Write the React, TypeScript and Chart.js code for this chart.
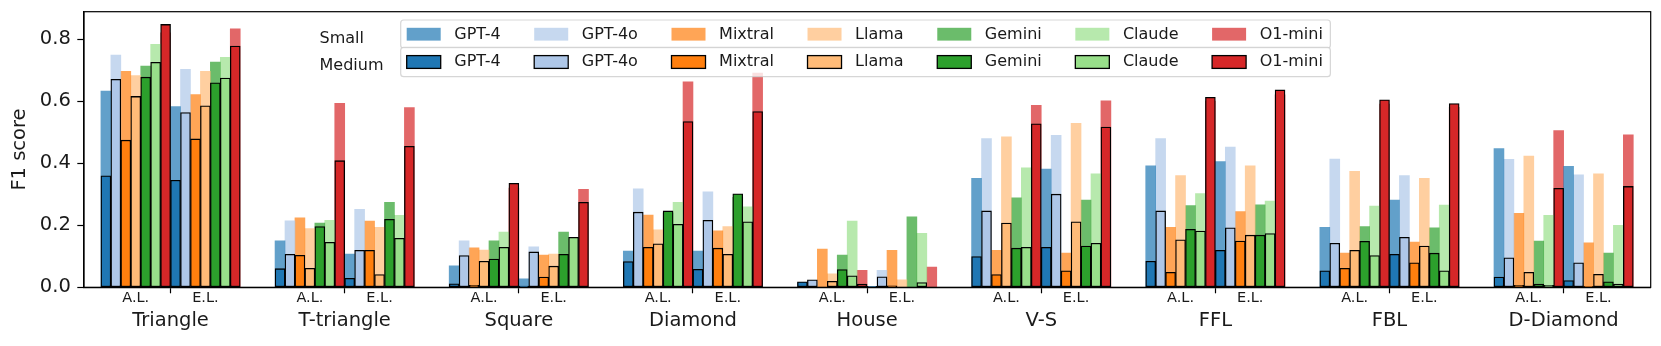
import React, { useEffect, useRef } from 'react';
import { Chart, registerables } from 'chart.js';

Chart.register(...registerables);

const FONT = "'DejaVu Sans', 'Liberation Sans', sans-serif";

const groups = ['Triangle', 'T-triangle', 'Square', 'Diamond', 'House', 'V-S', 'FFL', 'FBL', 'D-Diamond'];
const subgroups = ['A.L.', 'E.L.'];
const models = ['GPT-4', 'GPT-4o', 'Mixtral', 'Llama', 'Gemini', 'Claude', 'O1-mini'];
const sizes = ['Small', 'Medium'];
const yTicks = [0, 0.2, 0.4, 0.6, 0.8];
const yMax = 0.888;

// Each array: Triangle A.L., Triangle E.L., T-triangle A.L., T-triangle E.L., Square A.L., Square E.L.,
// Diamond A.L., Diamond E.L., House A.L., House E.L., V-S A.L., V-S E.L., FFL A.L., FFL E.L.,
// FBL A.L., FBL E.L., D-Diamond A.L., D-Diamond E.L.
const smallGPT4 = [0.632, 0.582, 0.150, 0.107, 0.069, 0.027, 0.117, 0.117, 0.015, 0.0, 0.351, 0.381, 0.391, 0.405, 0.193, 0.281, 0.447, 0.390];
const mediumGPT4 = [0.359, 0.345, 0.060, 0.029, 0.011, 0.004, 0.083, 0.058, 0.018, 0.003, 0.099, 0.129, 0.084, 0.119, 0.053, 0.106, 0.033, 0.022];

const smallGPT4o = [0.748, 0.702, 0.214, 0.251, 0.150, 0.130, 0.317, 0.308, 0.020, 0.055, 0.479, 0.490, 0.479, 0.452, 0.413, 0.360, 0.412, 0.362];
const mediumGPT4o = [0.670, 0.563, 0.106, 0.119, 0.102, 0.114, 0.242, 0.216, 0.024, 0.034, 0.246, 0.300, 0.246, 0.192, 0.142, 0.161, 0.095, 0.079];

const smallMixtral = [0.696, 0.621, 0.224, 0.213, 0.127, 0.104, 0.233, 0.182, 0.123, 0.119, 0.119, 0.110, 0.193, 0.244, 0.110, 0.146, 0.238, 0.143];
const mediumMixtral = [0.474, 0.478, 0.103, 0.119, 0.006, 0.033, 0.129, 0.126, 0.0, 0.005, 0.041, 0.053, 0.048, 0.149, 0.061, 0.079, 0.006, 0.003];

const smallLlama = [0.682, 0.696, 0.189, 0.193, 0.120, 0.107, 0.185, 0.196, 0.043, 0.024, 0.485, 0.528, 0.360, 0.391, 0.374, 0.351, 0.423, 0.366];
const mediumLlama = [0.615, 0.585, 0.061, 0.041, 0.084, 0.068, 0.140, 0.106, 0.019, 0.0, 0.207, 0.211, 0.153, 0.168, 0.119, 0.133, 0.048, 0.042];

const smallGemini = [0.713, 0.726, 0.207, 0.274, 0.150, 0.178, 0.240, 0.290, 0.104, 0.227, 0.288, 0.281, 0.263, 0.266, 0.196, 0.192, 0.149, 0.110];
const mediumGemini = [0.677, 0.659, 0.196, 0.219, 0.091, 0.106, 0.246, 0.301, 0.057, 0.0, 0.126, 0.133, 0.187, 0.168, 0.148, 0.110, 0.010, 0.018];

const smallClaude = [0.783, 0.741, 0.216, 0.232, 0.178, 0.155, 0.274, 0.259, 0.213, 0.174, 0.385, 0.366, 0.302, 0.278, 0.262, 0.265, 0.232, 0.200];
const mediumClaude = [0.725, 0.674, 0.145, 0.158, 0.129, 0.161, 0.203, 0.211, 0.037, 0.015, 0.129, 0.142, 0.181, 0.173, 0.102, 0.053, 0.006, 0.010];

const smallO1mini = [0.820, 0.833, 0.593, 0.579, 0.320, 0.316, 0.662, 0.690, 0.055, 0.065, 0.586, 0.601, 0.600, 0.620, 0.590, 0.580, 0.505, 0.491];
const mediumO1mini = [0.847, 0.777, 0.408, 0.454, 0.335, 0.274, 0.534, 0.566, 0.010, 0.0, 0.527, 0.516, 0.612, 0.636, 0.604, 0.592, 0.319, 0.325];

const smallValues = [smallGPT4, smallGPT4o, smallMixtral, smallLlama, smallGemini, smallClaude, smallO1mini];
const mediumValues = [mediumGPT4, mediumGPT4o, mediumMixtral, mediumLlama, mediumGemini, mediumClaude, mediumO1mini];

const baseColors = ['#1f77b4', '#aec7e8', '#ff7f0e', '#ffbb78', '#2ca02c', '#98df8a', '#d62728'];

function rgba(hex: string, a: number) {
  const n = parseInt(hex.slice(1), 16);
  return `rgba(${(n >> 16) & 255},${(n >> 8) & 255},${n & 255},${a})`;
}

// x positions in "bar width" units
const PER_SUB = models.length;
const GROUP_STEP = 17.5;
const barX = (g: number, s: number, m: number) => g * GROUP_STEP + s * PER_SUB + m;
const subCenter = (g: number, s: number) => g * GROUP_STEP + s * PER_SUB + (PER_SUB - 1) / 2;
const dividerX = (g: number) => g * GROUP_STEP + PER_SUB - 0.5;
const X_MIN = -2.2;
const X_MAX = (groups.length - 1) * GROUP_STEP + 2 * PER_SUB - 0.5 + 1.75;

const xTickValues: number[] = [];
const xTickLabels: string[] = [];
groups.forEach((_, g) => {
  xTickValues.push(subCenter(g, 0));
  xTickLabels.push(subgroups[0]);
  xTickValues.push(dividerX(g));
  xTickLabels.push('');
  xTickValues.push(subCenter(g, 1));
  xTickLabels.push(subgroups[1]);
});

const framePlugin = {
  id: 'axesFrame',
  afterDatasetsDraw(chart: any) {
    const { ctx, chartArea } = chart;
    ctx.save();
    ctx.strokeStyle = '#000';
    ctx.lineWidth = 1.2;
    ctx.strokeRect(chartArea.left, chartArea.top, chartArea.right - chartArea.left, chartArea.bottom - chartArea.top);
    ctx.restore();
  },
};

function roundedRect(ctx: CanvasRenderingContext2D, x: number, y: number, w: number, h: number, r: number) {
  ctx.beginPath();
  ctx.moveTo(x + r, y);
  ctx.lineTo(x + w - r, y);
  ctx.quadraticCurveTo(x + w, y, x + w, y + r);
  ctx.lineTo(x + w, y + h - r);
  ctx.quadraticCurveTo(x + w, y + h, x + w - r, y + h);
  ctx.lineTo(x + r, y + h);
  ctx.quadraticCurveTo(x, y + h, x, y + h - r);
  ctx.lineTo(x, y + r);
  ctx.quadraticCurveTo(x, y, x + r, y);
  ctx.closePath();
}

const legendPlugin = {
  id: 'sizeLegends',
  afterDraw(chart: any) {
    const ctx: CanvasRenderingContext2D = chart.ctx;
    ctx.save();
    ctx.font = `16px ${FONT}`;
    const handleW = 34;
    const handleH = 12.8;
    const textPad = 13.6;
    const colGap = 33.6;
    const startX = 406.7;
    const xs: number[] = [];
    let x = startX;
    models.forEach((m) => {
      xs.push(x);
      x += handleW + textPad + ctx.measureText(m).width + colGap;
    });
    const left = 400.7;
    const right = xs[xs.length - 1] + handleW + textPad + ctx.measureText(models[models.length - 1]).width + 7.5;
    const rows = [
      { top: 20, bottom: 48.2, cy: 34.2, ty: 35, labelY: 38.8 },
      { top: 47.3, bottom: 76.7, cy: 62, ty: 62, labelY: 66 },
    ];
    sizes.forEach((size, r) => {
      const f = rows[r];
      roundedRect(ctx, left, f.top, right - left, f.bottom - f.top, 3);
      ctx.fillStyle = 'rgba(255,255,255,0.8)';
      ctx.fill();
      ctx.strokeStyle = 'rgba(204,204,204,0.8)';
      ctx.lineWidth = 1.2;
      ctx.stroke();
      models.forEach((m, i) => {
        const ds = chart.data.datasets[i * 2 + r];
        ctx.fillStyle = ds.backgroundColor;
        ctx.fillRect(xs[i], f.cy - handleH / 2, handleW, handleH);
        if (r === 1) {
          ctx.strokeStyle = '#000';
          ctx.lineWidth = 1.3;
          ctx.strokeRect(xs[i], f.cy - handleH / 2, handleW, handleH);
        }
        ctx.fillStyle = '#1a1a1a';
        ctx.textAlign = 'left';
        ctx.textBaseline = 'middle';
        ctx.fillText(m, xs[i] + handleW + textPad, f.ty);
      });
      ctx.fillStyle = '#1a1a1a';
      ctx.textAlign = 'left';
      ctx.textBaseline = 'middle';
      ctx.fillText(size, 319.5, f.labelY);
    });
    ctx.restore();
  },
};

export default function App() {
  const canvasRef = useRef<HTMLCanvasElement | null>(null);

  useEffect(() => {
    if (!canvasRef.current) return;
    Chart.defaults.font.family = FONT;
    Chart.defaults.color = '#000';

    const common = { grouped: false, categoryPercentage: 1, barPercentage: 1, xAxisID: 'x', yAxisID: 'y' };

    const datasets: any[] = [];
    models.forEach((name, m) => {
      datasets.push({
        ...common,
        label: `${name} (${sizes[0]})`,
        data: smallValues[m].map((v, i) => ({ x: barX(Math.floor(i / 2), i % 2, m), y: v })),
        backgroundColor: rgba(baseColors[m], 0.7),
        borderWidth: 0,
        order: 2,
      });
      datasets.push({
        ...common,
        label: `${name} (${sizes[1]})`,
        data: mediumValues[m].map((v, i) => ({ x: barX(Math.floor(i / 2), i % 2, m), y: v })),
        backgroundColor: baseColors[m],
        borderColor: '#000',
        borderWidth: 1.3,
        borderSkipped: false,
        order: 1,
      });
    });

    const chart = new Chart(canvasRef.current, {
      type: 'bar',
      data: { datasets },
      options: {
        responsive: false,
        devicePixelRatio: 1,
        animation: false,
        events: [],
        layout: { padding: { top: 11.7, right: 10.3, left: 0, bottom: 0 } },
        plugins: { legend: { display: false }, tooltip: { enabled: false } },
        scales: {
          x: {
            type: 'linear',
            position: 'bottom',
            weight: 0,
            min: X_MIN,
            max: X_MAX,
            bounds: 'data',
            offset: false,
            grid: {
              display: true,
              offset: false,
              drawOnChartArea: false,
              drawTicks: true,
              tickLength: 6,
              tickWidth: 1.2,
              tickColor: (c: any) => (c.index % 3 === 1 ? '#000' : 'rgba(0,0,0,0)'),
            },
            border: { display: true, color: '#000', width: 1.2 },
            ticks: {
              autoSkip: false,
              maxRotation: 0,
              minRotation: 0,
              padding: -4,
              color: '#1a1a1a',
              font: { size: 14.5, family: FONT },
              callback: (_v: any, i: number) => xTickLabels[i],
            },
            afterBuildTicks: (s: any) => {
              s.ticks = xTickValues.map((v) => ({ value: v }));
            },
            afterFit: (s: any) => {
              s.height = 19.5;
              s.paddingLeft = 0;
              s.paddingRight = 0;
            },
          },
          xg: {
            type: 'linear',
            axis: 'x',
            position: 'bottom',
            weight: 1,
            min: X_MIN,
            max: X_MAX,
            bounds: 'data',
            offset: false,
            grid: { display: false, drawTicks: false, offset: false },
            border: { display: false },
            ticks: {
              autoSkip: false,
              maxRotation: 0,
              minRotation: 0,
              padding: 2.3,
              color: '#1a1a1a',
              font: { size: 19.5, family: FONT },
              callback: (_v: any, i: number) => groups[i],
            },
            afterBuildTicks: (s: any) => {
              s.ticks = groups.map((_, g) => ({ value: dividerX(g) }));
            },
            afterFit: (s: any) => {
              s.height = 39.2;
              s.paddingLeft = 0;
              s.paddingRight = 0;
            },
          },
          y: {
            type: 'linear',
            position: 'left',
            min: 0,
            max: yMax,
            bounds: 'data',
            grid: {
              display: true,
              drawOnChartArea: false,
              drawTicks: true,
              tickLength: 6.7,
              tickWidth: 1.2,
              tickColor: '#000',
            },
            border: { display: true, color: '#000', width: 1.2 },
            ticks: {
              padding: 6.5,
              color: '#1a1a1a',
              font: { size: 19.5, family: FONT },
              callback: (v: any) => Number(v).toFixed(1),
            },
            afterBuildTicks: (s: any) => {
              s.ticks = yTicks.map((v) => ({ value: v }));
            },
            title: {
              display: true,
              text: 'F1 score',
              color: '#1a1a1a',
              font: { size: 19.5, family: FONT },
              padding: { top: 7.8, bottom: 0 },
            },
            afterFit: (s: any) => {
              s.width = 84;
              s.paddingTop = 0;
              s.paddingBottom = 0;
            },
          },
        },
      } as any,
      plugins: [framePlugin, legendPlugin],
    });

    return () => {
      chart.destroy();
    };
  }, []);

  return (
    <div style={{ position: 'absolute', left: 0, top: 0, width: 1661, height: 346, background: '#fff' }}>
      <canvas ref={canvasRef} width={1661} height={346} style={{ display: 'block', width: 1661, height: 346 }} />
    </div>
  );
}
